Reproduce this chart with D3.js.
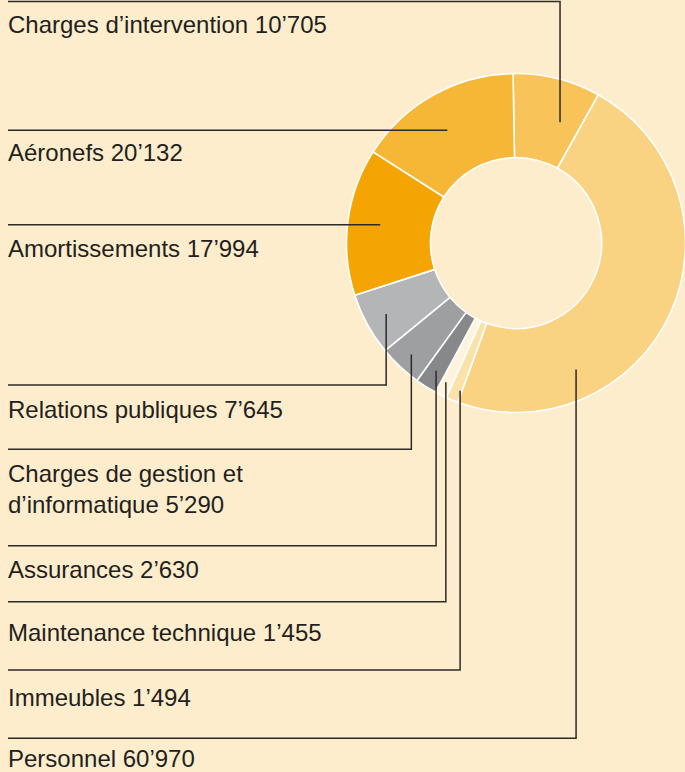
<!DOCTYPE html>
<html>
<head>
<meta charset="utf-8">
<script src="https://cdn.jsdelivr.net/npm/d3@7"></script>
<style>
    html, body { margin: 0; padding: 0; background: #fdedcc; }
    svg { display: block; }
    .label { font-family: "Liberation Sans", Arial, sans-serif; font-size: 24px; fill: #231f20; }
</style>
</head>
<body>
<div id="chart"></div>
<script>
// data, in clockwise order starting at the top
var names = [
    "Charges d’intervention",
    "Personnel",
    "Immeubles",
    "Maintenance technique",
    "Assurances",
    "Charges de gestion et\nd’informatique",
    "Relations publiques",
    "Amortissements",
    "Aéronefs"
];
var values = [10705, 60970, 1494, 1455, 2630, 5290, 7645, 17994, 20132];
var colors = [
    "#f8c45a", "#f9d382", "#fbe1aa", "#fef3dc", "#87888a",
    "#9e9fa1", "#b4b5b7", "#f5a503", "#f6b737"
];

// layout of the leader lines and labels (same order as names)
var lineY = [1.5, 738.3, 670, 601.7, 545.7, 449.3, 385, 224.7, 130.3];
var textY = [33.3, 767, 705.7, 641, 578.3, 481.7, 418.3, 257, 161];
var anchorR = [128.6, 140, 158, 156, 150.6, 153, 148, 137, 132];
var anchorFrac = [0.7, 0.734, 0.15, 0.6, 0.5, 0.5, 0.5, null, null]; // null = horizontal leader

var width = 685, height = 772;
var cx = 516, cy = 243, outerR = 169.5, innerR = 85.5;
var labelX = 8;

var fmt = d3.formatLocale({ decimal: ".", thousands: "’", grouping: [3], currency: ["", ""] }).format(",d");

function drawChart() {
    var svg = d3.select("#chart")
        .append("svg")
        .attr("width", width)
        .attr("height", height);

    svg.append("rect")
        .attr("width", width)
        .attr("height", height)
        .attr("fill", "#fdedcc");

    var pie = d3.pie()
        .sort(null)
        .startAngle(-1 * Math.PI / 180)
        .endAngle(359 * Math.PI / 180);

    var arcs = pie(values);

    var arc = d3.arc()
        .innerRadius(innerR)
        .outerRadius(outerR);

    var donut = svg.append("g")
        .attr("transform", "translate(" + cx + "," + cy + ")");

    donut.selectAll("path")
        .data(arcs)
        .join("path")
        .attr("d", arc)
        .attr("fill", (d, i) => colors[i])
        .attr("stroke", "#ffffff")
        .attr("stroke-width", 1.6)
        .attr("stroke-linejoin", "round");

    drawLeaders(svg, arcs);
    drawLabels(svg);
}

function anchorPoint(d, i) {
    var a = d.startAngle + anchorFrac[i] * (d.endAngle - d.startAngle);
    return [cx + anchorR[i] * Math.sin(a), cy - anchorR[i] * Math.cos(a)];
}

function drawLeaders(svg, arcs) {
    var line = d3.line();

    svg.append("g")
        .selectAll("path")
        .data(arcs)
        .join("path")
        .attr("d", (d, i) => {
            if (anchorFrac[i] === null) {
                // straight line at the label height, ending inside the slice
                var dy = lineY[i] - cy;
                var x = cx - Math.sqrt(anchorR[i] * anchorR[i] - dy * dy);
                return line([[labelX, lineY[i]], [x, lineY[i]]]);
            }
            var p = anchorPoint(d, i);
            return line([p, [p[0], lineY[i]], [labelX, lineY[i]]]);
        })
        .attr("fill", "none")
        .attr("stroke", "#2e2a27")
        .attr("stroke-width", 1.5);
}

function drawLabels(svg) {
    var labels = svg.append("g")
        .selectAll("text")
        .data(names)
        .join("text")
        .attr("class", "label")
        .attr("x", labelX)
        .attr("y", (d, i) => textY[i]);

    labels.each(function(d, i) {
        var parts = d.split("\n");
        var t = d3.select(this);
        parts.forEach((p, j) => {
            var last = j === parts.length - 1;
            t.append("tspan")
                .attr("x", labelX)
                .attr("dy", j === 0 ? 0 : 31.6)
                .text(last ? p + " " + fmt(values[i]) : p);
        });
    });
}

drawChart();
</script>
</body>
</html>
